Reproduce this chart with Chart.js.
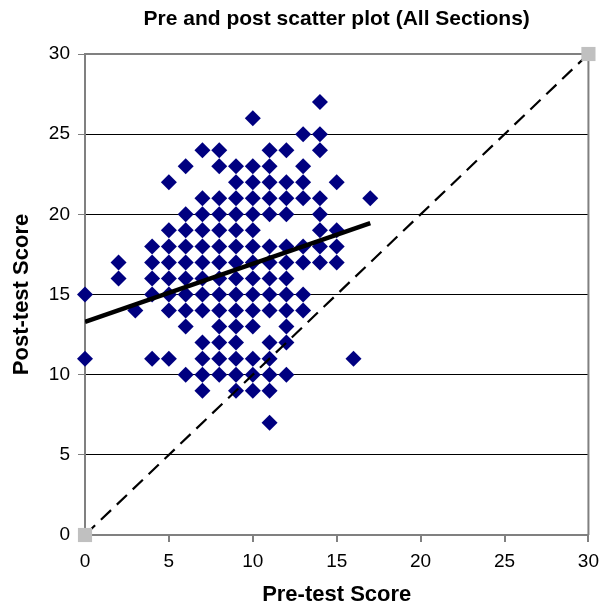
<!DOCTYPE html>
<html>
<head>
<meta charset="utf-8">
<script src="https://cdn.jsdelivr.net/npm/chart.js@4.4.1/dist/chart.umd.min.js"></script>
<style>
  html, body { margin: 0; padding: 0; background: #fff; }
  #wrap { width: 607px; height: 609px; }
</style>
</head>
<body>
<div id="wrap"><canvas id="scatterChart" width="607" height="609"></canvas></div>
<script>
// pre-test / post-test pairs, grouped by post-test score (27 down to 7)
const preScores = [
    14,
    10,
    13, 14,
    7, 8, 11, 12, 14,
    6, 8, 9, 10, 11, 13,
    5, 9, 10, 11, 12, 13, 15,
    7, 8, 9, 10, 11, 12, 13, 14, 17,
    6, 7, 8, 9, 10, 11, 12, 14,
    5, 6, 7, 8, 9, 10, 14, 15,
    4, 5, 6, 7, 8, 9, 10, 11, 12, 13, 14, 15,
    2, 4, 5, 6, 7, 8, 9, 10, 11, 12, 13, 14, 15,
    2, 4, 5, 6, 7, 8, 9, 10, 11, 12,
    0, 4, 5, 6, 7, 8, 9, 10, 11, 12, 13,
    3, 5, 6, 7, 8, 9, 10, 11, 12, 13,
    6, 8, 9, 10, 12,
    7, 8, 9, 11, 12,
    0, 4, 5, 7, 8, 9, 10, 11, 16,
    6, 7, 8, 9, 10, 11, 12,
    7, 9, 10, 11,
    11
];
const postScores = [
    27,
    26,
    25, 25,
    24, 24, 24, 24, 24,
    23, 23, 23, 23, 23, 23,
    22, 22, 22, 22, 22, 22, 22,
    21, 21, 21, 21, 21, 21, 21, 21, 21,
    20, 20, 20, 20, 20, 20, 20, 20,
    19, 19, 19, 19, 19, 19, 19, 19,
    18, 18, 18, 18, 18, 18, 18, 18, 18, 18, 18, 18,
    17, 17, 17, 17, 17, 17, 17, 17, 17, 17, 17, 17, 17,
    16, 16, 16, 16, 16, 16, 16, 16, 16, 16,
    15, 15, 15, 15, 15, 15, 15, 15, 15, 15, 15,
    14, 14, 14, 14, 14, 14, 14, 14, 14, 14,
    13, 13, 13, 13, 13,
    12, 12, 12, 12, 12,
    11, 11, 11, 11, 11, 11, 11, 11, 11,
    10, 10, 10, 10, 10, 10, 10,
    9, 9, 9, 9,
    7
];

// linear trend line end points
const trendX = [0, 17];
const trendY = [13.3, 19.45];

// no-gain reference line (post = pre)
const refX = [0, 30];
const refY = [0, 30];

const axisTicks = [0, 5, 10, 15, 20, 25, 30];

const FONT = "'Liberation Sans', Arial, sans-serif";
const GREY = '#808080';

const toPoints = (xs, ys) => xs.map((x, i) => ({ x: x, y: ys[i] }));

// plot area frame + chart title
const frameAndTitle = {
    id: 'frameAndTitle',
    beforeDatasetsDraw(chart) {
        const { ctx, chartArea: a } = chart;
        ctx.save();
        ctx.strokeStyle = GREY;
        ctx.lineWidth = 2;
        ctx.beginPath();
        ctx.moveTo(a.left, a.top);
        ctx.lineTo(a.right, a.top);
        ctx.lineTo(a.right, a.bottom);
        ctx.stroke();
        ctx.restore();
    },
    afterDraw(chart) {
        const { ctx, chartArea: a } = chart;
        ctx.save();
        ctx.font = 'bold 21px ' + FONT;
        ctx.fillStyle = '#000';
        ctx.textAlign = 'center';
        ctx.textBaseline = 'middle';
        ctx.fillText('Pre and post scatter plot (All Sections)', (a.left + a.right) / 2, 19);
        ctx.restore();
    }
};

const ctx = document.getElementById('scatterChart').getContext('2d');
const scatterChart = new Chart(ctx, {
    type: 'scatter',
    data: {
        datasets: [{
            label: 'Trend',
            type: 'line',
            data: toPoints(trendX, trendY),
            borderColor: '#000',
            borderWidth: 4.5,
            pointRadius: 0,
            fill: false
        }, {
            label: 'Post = Pre',
            type: 'line',
            data: toPoints(refX, refY),
            borderColor: '#000',
            borderWidth: 2.2,
            borderDash: [14, 8],
            pointStyle: 'rect',
            pointRadius: 10,
            pointBackgroundColor: '#C0C0C0',
            pointBorderWidth: 0,
            clip: false,
            fill: false
        }, {
            label: 'Students',
            data: toPoints(preScores, postScores),
            pointStyle: 'rectRot',
            pointRadius: 8,
            pointBackgroundColor: '#000080',
            pointBorderWidth: 0,
            clip: false
        }]
    },
    options: {
        responsive: false,
        animation: false,
        layout: { padding: { top: 54, right: 13, left: 0, bottom: 0 } },
        plugins: {
            legend: { display: false },
            tooltip: { enabled: false }
        },
        scales: {
            x: {
                type: 'linear',
                min: 0,
                max: 30,
                afterBuildTicks: (scale) => { scale.ticks = axisTicks.map(v => ({ value: v })); },
                afterFit: (scale) => { scale.height = 74; },
                ticks: { font: { family: FONT, size: 19 }, color: '#000', padding: 8 },
                grid: { drawOnChartArea: false, tickLength: 7, color: GREY, lineWidth: 2 },
                border: { color: GREY, width: 2 },
                title: {
                    display: true,
                    text: 'Pre-test Score',
                    font: { family: FONT, size: 22, weight: 'bold' },
                    color: '#000',
                    padding: { top: 0, bottom: 1 }
                }
            },
            y: {
                type: 'linear',
                min: 0,
                max: 30,
                afterBuildTicks: (scale) => { scale.ticks = axisTicks.map(v => ({ value: v })); },
                afterFit: (scale) => { scale.width = 85; },
                ticks: { font: { family: FONT, size: 19 }, color: '#000', padding: 8 },
                grid: {
                    color: (c) => (c.tick && (c.tick.value === 0 || c.tick.value === 30)) ? 'rgba(0,0,0,0)' : '#000',
                    tickColor: GREY,
                    tickLength: 7,
                    lineWidth: 1
                },
                border: { color: GREY, width: 2 },
                title: {
                    display: true,
                    text: 'Post-test Score',
                    font: { family: FONT, size: 22, weight: 'bold' },
                    color: '#000',
                    padding: { top: 9, bottom: 0 }
                }
            }
        }
    },
    plugins: [frameAndTitle]
});
</script>
</body>
</html>
